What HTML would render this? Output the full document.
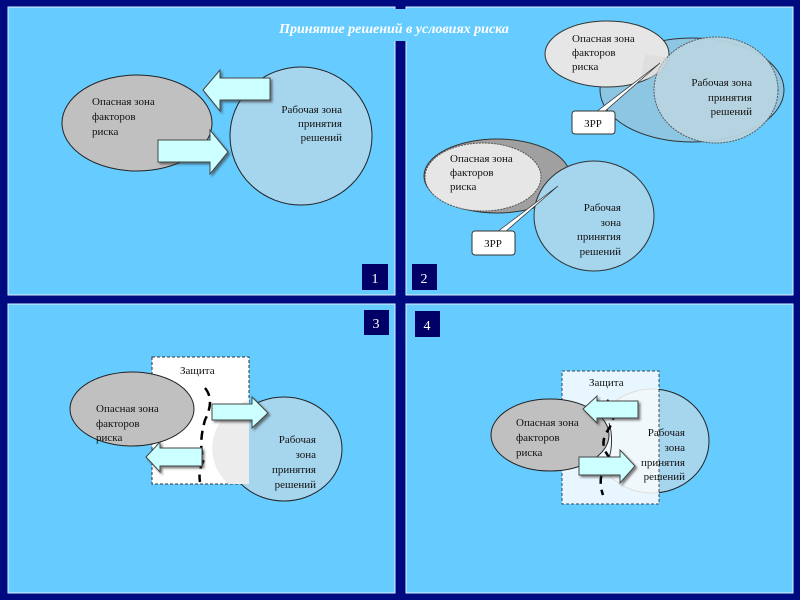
<!DOCTYPE html>
<html><head><meta charset="utf-8"><style>
html,body{margin:0;padding:0;background:#000a80;}
svg{display:block;}
text{font-family:"Liberation Serif",serif;font-size:11px;fill:#111;}
.n{font-size:14px;fill:#fff;}
</style></head><body>
<svg width="800" height="600" viewBox="0 0 800 600" xmlns="http://www.w3.org/2000/svg">
<defs>
<filter id="sh" x="-20%" y="-20%" width="150%" height="150%"><feDropShadow dx="2" dy="2" stdDeviation="1" flood-color="#333" flood-opacity="0.6"/></filter>
</defs>
<rect width="800" height="600" fill="#000a80"/>
<g fill="#66ccff" stroke="#dfefff" stroke-width="1">
<rect x="8" y="7" width="387" height="288"/>
<rect x="406" y="7" width="387" height="288"/>
<rect x="8" y="304" width="387" height="289"/>
<rect x="406" y="304" width="387" height="289"/>
</g>
<rect x="250" y="9" width="300" height="32" fill="#66ccff"/>
<text x="394" y="33" text-anchor="middle" style="font-size:14px;font-weight:bold;font-style:italic;fill:#fff">Принятие решений в условиях риска</text>

<!-- Panel 1 -->
<ellipse cx="137" cy="123" rx="75" ry="48" fill="#c0c0c0" stroke="#222"/>
<ellipse cx="301" cy="136" rx="71" ry="69" fill="#a6d5ee" stroke="#222"/>
<polygon points="203,90 220,70 220,78 270,78 270,100 220,100 220,111" fill="#ccffff" stroke="#444" filter="url(#sh)"/>
<polygon points="158,140 210,140 210,130 228,152 210,174 210,162 158,162" fill="#ccffff" stroke="#444" filter="url(#sh)"/>
<text x="92" y="105">Опасная зона</text><text x="92" y="120">факторов</text><text x="92" y="135">риска</text>
<text x="342" y="113" text-anchor="end">Рабочая зона</text><text x="342" y="127" text-anchor="end">принятия</text><text x="342" y="141" text-anchor="end">решений</text>
<rect x="362" y="264" width="26" height="26" fill="#000066"/><text class="n" x="375" y="283" text-anchor="middle">1</text>

<!-- Panel 2 top -->
<ellipse cx="692" cy="90" rx="92" ry="52" fill="#8cc6e3" stroke="#333"/>
<ellipse cx="607" cy="54" rx="62" ry="33" fill="#e6e6e6" stroke="#333"/>
<ellipse cx="716" cy="90" rx="62" ry="53" fill="#b8d4e0" stroke="#555" stroke-dasharray="2,1" opacity="0.95"/>
<path d="M645,55 A62,33 0 0 1 668,58 L660,72 Q650,80 640,80 Z" fill="#d8d8d8" opacity="0.6"/>
<polygon points="596,112 604,112 660,63" fill="#fff" stroke="#333" stroke-width="0.7"/>
<rect x="572" y="111" width="43" height="23" rx="3" fill="#fff" stroke="#333"/>
<text x="593" y="127" text-anchor="middle">ЗРР</text>
<text x="572" y="42">Опасная зона</text><text x="572" y="56">факторов</text><text x="572" y="70">риска</text>
<text x="752" y="86" text-anchor="end">Рабочая зона</text><text x="752" y="101" text-anchor="end">принятия</text><text x="752" y="115" text-anchor="end">решений</text>

<!-- Panel 2 bottom -->
<ellipse cx="497" cy="176" rx="73" ry="37" fill="#a0a0a0" stroke="#333"/>
<ellipse cx="483" cy="177" rx="58" ry="34" fill="#e6e6e6" stroke="#555" stroke-dasharray="2,1"/>
<ellipse cx="594" cy="216" rx="60" ry="55" fill="#a6d5ee" stroke="#333"/>
<polygon points="497,232 505,232 558,186" fill="#fff" stroke="#333" stroke-width="0.7"/>
<rect x="472" y="231" width="43" height="24" rx="3" fill="#fff" stroke="#333"/>
<text x="493" y="247" text-anchor="middle">ЗРР</text>
<text x="450" y="162">Опасная зона</text><text x="450" y="176">факторов</text><text x="450" y="190">риска</text>
<text x="621" y="211" text-anchor="end">Рабочая</text><text x="621" y="226" text-anchor="end">зона</text><text x="621" y="240" text-anchor="end">принятия</text><text x="621" y="255" text-anchor="end">решений</text>
<rect x="412" y="264" width="25" height="26" fill="#000066"/><text class="n" x="424" y="283" text-anchor="middle">2</text>

<!-- Panel 3 -->
<rect x="364" y="310" width="25" height="25" fill="#000066"/><text class="n" x="376" y="328" text-anchor="middle">3</text>
<rect x="152" y="357" width="97" height="127" fill="#fff" stroke="#333" stroke-dasharray="3,2"/>
<ellipse cx="132" cy="409" rx="62" ry="37" fill="#c0c0c0" stroke="#222"/>
<ellipse cx="284" cy="449" rx="58" ry="52" fill="#a6d5ee" stroke="#222"/>
<path d="M249,400 L249,484 L228,484 A58,52 0 0 1 249,400 Z" fill="#ececec"/>
<path d="M205,388 Q215,400 205,420 Q198,445 204,460 Q198,470 200,482" fill="none" stroke="#000" stroke-width="2.5" stroke-dasharray="9,6"/>
<polygon points="212,404 252,404 252,397 268,413 252,428 252,420 212,420" fill="#ccffff" stroke="#444" filter="url(#sh)"/>
<polygon points="146,457 160,442 160,448 202,448 202,466 160,466 160,472" fill="#ccffff" stroke="#444" filter="url(#sh)"/>
<text x="180" y="374">Защита</text>
<text x="96" y="412">Опасная зона</text><text x="96" y="427">факторов</text><text x="96" y="441">риска</text>
<text x="316" y="443" text-anchor="end">Рабочая</text><text x="316" y="458" text-anchor="end">зона</text><text x="316" y="473" text-anchor="end">принятия</text><text x="316" y="488" text-anchor="end">решений</text>

<!-- Panel 4 -->
<rect x="415" y="311" width="25" height="26" fill="#000066"/><text class="n" x="427" y="330" text-anchor="middle">4</text>
<ellipse cx="652" cy="441" rx="57" ry="52" fill="#a6d5ee" stroke="#222"/>
<rect x="562" y="371" width="97" height="133" fill="#fff" stroke="#333" stroke-dasharray="3,2" opacity="0.85"/>
<ellipse cx="550" cy="435" rx="59" ry="36" fill="#c0c0c0" stroke="#222"/>
<path d="M609,423 A10,26 0 0 1 595,460" fill="none" stroke="#333"/>
<path d="M607,400 Q620,412 608,430 Q598,445 610,458 Q596,475 603,495" fill="none" stroke="#000" stroke-width="2.5" stroke-dasharray="8,6"/>
<polygon points="583,409 597,396 597,401 638,401 638,418 597,418 597,423" fill="#ccffff" stroke="#444" filter="url(#sh)"/>
<polygon points="579,457 620,457 620,450 635,466 620,483 620,475 579,475" fill="#ccffff" stroke="#444" filter="url(#sh)"/>
<text x="589" y="386">Защита</text>
<text x="516" y="426">Опасная зона</text><text x="516" y="441">факторов</text><text x="516" y="456">риска</text>
<text x="685" y="436" text-anchor="end">Рабочая</text><text x="685" y="451" text-anchor="end">зона</text><text x="685" y="466" text-anchor="end">принятия</text><text x="685" y="480" text-anchor="end">решений</text>
</svg>
</body></html>
